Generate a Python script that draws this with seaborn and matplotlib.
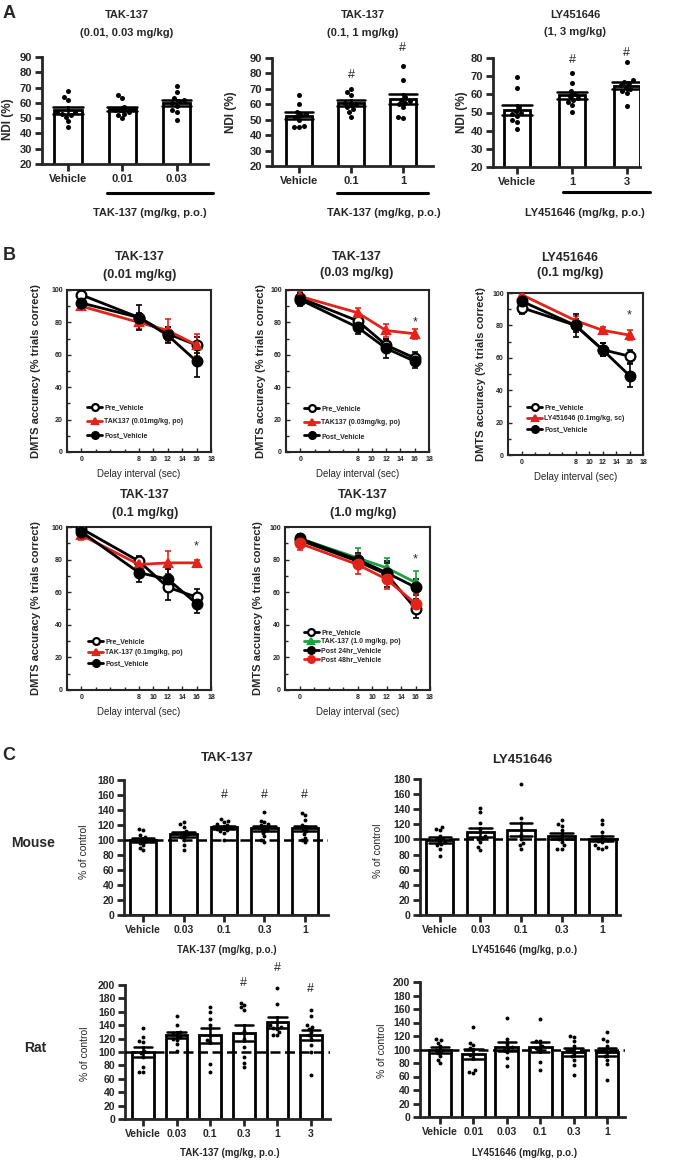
import numpy as np
import pandas as pd
import matplotlib
matplotlib.use("Agg")
import matplotlib.pyplot as plt
from matplotlib.lines import Line2D
from matplotlib.ticker import MultipleLocator
import seaborn as sns

W, H = 685, 1161

# ---------------- Panel A: NDI (%) ----------------
a1_doses = ["Vehicle", "0.01", "0.03"]
a1_vehicle = [68, 64, 62, 54, 54, 53, 52, 51, 48, 44]
a1_d001 = [65, 63, 57, 56, 55, 55, 54, 53, 52, 50]
a1_d003 = [71, 67, 63, 62, 61, 60, 58, 55, 54, 49]

a2_doses = ["Vehicle", "0.1", "1"]
a2_vehicle = [66, 60, 55, 54, 53, 52, 50, 46, 45, 45]
a2_d01 = [70, 68, 66, 61, 60, 60, 58, 57, 55, 52]
a2_d1 = [85, 76, 65, 63, 62, 61, 60, 58, 52, 51]

a3_doses = ["Vehicle", "1", "3"]
a3_vehicle = [69.5, 63.5, 53, 51, 50, 49, 48, 46, 45, 41]
a3_d1 = [72, 66, 62, 60, 59, 58, 57, 56, 54, 50.5]
a3_d3 = [78, 68, 67, 66, 65, 64, 63, 62, 61, 53.5]

# ---------------- Panel B: DMTS accuracy ----------------
delays = [0, 8, 12, 16]
b1_pre, b1_pre_err = [97, 83, 73, 66], [2, 3, 4, 5]
b1_tak, b1_tak_err = [90, 80, 75, 66], [2, 4, 7, 7]
b1_post, b1_post_err = [92, 83, 72, 56], [3, 8, 5, 10]

b2_pre, b2_pre_err = [95, 81, 66, 58], [3, 3, 4, 4]
b2_tak, b2_tak_err = [96, 86, 75, 73], [3, 3, 4, 3]
b2_post, b2_post_err = [94, 77, 64, 56], [4, 4, 6, 4]

b3_pre, b3_pre_err = [91, 80, 65, 61], [4, 4, 4, 4]
b3_ly, b3_ly_err = [99, 83, 77, 74], [2, 3, 2, 3]
b3_post, b3_post_err = [95, 80, 65, 49], [3, 7, 4, 7]

b4_pre, b4_pre_err = [99, 79, 63, 57], [2, 3, 8, 5]
b4_tak, b4_tak_err = [95, 77, 78, 78], [3, 3, 7, 2]
b4_post, b4_post_err = [97, 72, 68, 53], [2, 6, 6, 6]

b5_pre, b5_pre_err = [92, 79, 71, 50], [3, 4, 8, 6]
b5_tak, b5_tak_err = [93, 81, 75, 66], [3, 6, 6, 7]
b5_post24, b5_post24_err = [93, 80, 72, 63], [3, 4, 6, 5]
b5_post48, b5_post48_err = [90, 77, 68, 53], [4, 6, 6, 6]

# ---------------- Panel C: % of control ----------------
cm_tak_doses = ["Vehicle", "0.03", "0.1", "0.3", "1"]
cm_tak_vals = [
    [115, 113, 107, 104, 102, 100, 98, 96, 93, 90, 87],
    [124, 121, 118, 112, 110, 108, 106, 104, 100, 93, 87],
    [128, 126, 124, 121, 120, 118, 117, 116, 115, 113, 112, 110, 100],
    [138, 126, 124, 122, 120, 118, 115, 113, 110, 105, 100, 97],
    [136, 133, 127, 120, 118, 115, 112, 108, 103, 100, 97],
]
cm_ly_doses = ["Vehicle", "0.03", "0.1", "0.3", "1"]
cm_ly_vals = [
    [116, 114, 112, 104, 100, 98, 96, 94, 92, 88, 78],
    [142, 136, 122, 114, 104, 102, 100, 96, 90, 86],
    [174, 128, 122, 112, 106, 100, 95, 92, 87],
    [126, 120, 118, 112, 106, 100, 96, 92, 88, 88],
    [126, 120, 110, 104, 100, 98, 96, 92, 90, 89, 88],
]
cr_tak_doses = ["Vehicle", "0.03", "0.1", "0.3", "1", "3"]
cr_tak_vals = [
    [136, 122, 116, 115, 102, 98, 93, 78, 70, 70],
    [154, 140, 130, 128, 126, 122, 120, 118, 112, 102],
    [167, 160, 150, 140, 125, 118, 115, 82, 70],
    [173, 170, 167, 163, 132, 120, 108, 93, 83, 77],
    [196, 171, 140, 138, 136, 135, 130, 126, 125],
    [163, 153, 140, 138, 135, 130, 125, 120, 110, 100, 65],
]
cr_ly_doses = ["Vehicle", "0.01", "0.03", "0.1", "0.3", "1"]
cr_ly_vals = [
    [115, 114, 110, 105, 100, 98, 95, 90, 85, 80],
    [133, 110, 106, 102, 100, 92, 88, 70, 66, 65],
    [146, 116, 108, 104, 102, 100, 96, 88, 75],
    [145, 113, 112, 105, 102, 100, 82, 70],
    [120, 119, 112, 105, 100, 95, 90, 85, 77, 62],
    [126, 115, 112, 105, 100, 96, 90, 85, 78, 55],
]

RED = "#e2231a"
GREEN = "#1fa040"

sns.set_style("ticks")
plt.rcParams["font.family"] = ["Liberation Sans", "DejaVu Sans"]

fig = plt.figure(figsize=(W / 100, H / 100), dpi=100)


def px_axes(l, t, r, b):
    return fig.add_axes([l / W, 1 - b / H, (r - l) / W, (b - t) / H])


def ptext(x, y, s, **kw):
    kw.setdefault("ha", "center")
    kw.setdefault("va", "center")
    fig.text(x / W, 1 - y / H, s, **kw)


def bracket(x0, x1, y):
    fig.add_artist(Line2D([x0 / W, x1 / W], [1 - y / H, 1 - y / H],
                          color="black", lw=2.2, transform=fig.transFigure))


def dot_bar(ax, doses, groups, ylim, ystep, xlim, width, dot, fs):
    df = pd.DataFrame({
        "dose": np.repeat(doses, [len(g) for g in groups]),
        "value": np.concatenate(groups),
    })
    sns.barplot(data=df, x="dose", y="value", order=doses, errorbar="se",
                color="white", saturation=1, edgecolor="black", linewidth=2,
                width=width, capsize=0.55,
                err_kws={"color": "black", "linewidth": 1.8}, ax=ax)
    sns.swarmplot(data=df, x="dose", y="value", order=doses, color="black",
                  size=dot, ax=ax)
    ax.set_ylim(*ylim)
    ax.set_yticks(np.arange(ylim[0], ylim[1] + 1, ystep))
    ax.set_xlim(*xlim)
    ax.set_xlabel("")
    ax.set_ylabel("")
    for s in ["top", "right"]:
        ax.spines[s].set_visible(False)
    for s in ["left", "bottom"]:
        ax.spines[s].set_linewidth(2)
    ax.tick_params(width=2, length=5, labelsize=fs, pad=2)
    for lab in ax.get_xticklabels() + ax.get_yticklabels():
        lab.set_fontweight("bold")


def dmts(ax, series, leg_xy, leg_space, star=None):
    handles = []
    for label, vals, errs, col, mk, mfc in series:
        ax.errorbar(delays, vals, yerr=errs, fmt="none", ecolor=col,
                    elinewidth=1.2, capsize=2, capthick=1.2, zorder=2)
        sns.lineplot(x=delays, y=vals, color=col, marker=mk,
                     markersize=7 if mk == "o" else 6,
                     markerfacecolor=mfc, markeredgecolor=col,
                     markeredgewidth=1.6, linewidth=2, ax=ax, zorder=3)
        h = ax.get_lines()[-1]
        h.set_label(label)
        handles.append(h)
    ax.set_xlim(-2, 18)
    ax.set_ylim(0, 100)
    ax.set_xticks([0, 8, 10, 12, 14, 16, 18])
    ax.xaxis.set_minor_locator(MultipleLocator(2))
    ax.yaxis.set_major_locator(MultipleLocator(20))
    ax.yaxis.set_minor_locator(MultipleLocator(10))
    ax.tick_params(which="both", direction="in", width=1, labelsize=5, pad=3)
    ax.tick_params(which="major", length=3)
    ax.tick_params(which="minor", length=2)
    for s in ax.spines.values():
        s.set_linewidth(1.5)
    for lab in ax.get_xticklabels() + ax.get_yticklabels():
        lab.set_fontweight("bold")
    ax.set_xlabel("Delay interval (sec)", fontsize=7, labelpad=4)
    ax.set_ylabel("DMTS accuracy (% trials correct)", fontsize=8,
                  fontweight="bold")
    ax.legend(handles=handles, loc="upper left", bbox_to_anchor=leg_xy,
              frameon=False, prop={"size": 5, "weight": "bold"},
              handlelength=2.2, handletextpad=0.3, labelspacing=leg_space,
              borderaxespad=0, borderpad=0, markerscale=0.7)
    if star is not None:
        ax.text(16, star, "*", ha="center", va="center", fontsize=9)


# ===== Panel A =====
ptext(9, 13, "A", fontsize=13, fontweight="bold")

ax = px_axes(42, 57, 208, 164)
dot_bar(ax, a1_doses, [a1_vehicle, a1_d001, a1_d003], (20, 90), 10,
        (-0.48, 2.58), 0.5, 3.6, 8)
ax.set_ylabel("NDI (%)", fontsize=8.5, fontweight="bold")
ax.yaxis.set_label_coords(-0.17, 0.42)
ptext(127, 15, "TAK-137", fontsize=8, fontweight="bold")
ptext(127, 33, "(0.01, 0.03 mg/kg)", fontsize=8, fontweight="bold")
bracket(107, 213, 193)
ptext(150, 213, "TAK-137 (mg/kg, p.o.)", fontsize=8, fontweight="bold")

ax = px_axes(272, 58, 433, 166)
dot_bar(ax, a2_doses, [a2_vehicle, a2_d01, a2_d1], (20, 90), 10,
        (-0.52, 2.58), 0.5, 3.6, 8)
ax.set_ylabel("NDI (%)", fontsize=8.5, fontweight="bold")
ax.yaxis.set_label_coords(-0.22, 0.5)
for i, v in [(1, 79), (2, 96.5)]:
    ax.text(i, v, "#", ha="center", va="center", fontsize=9, clip_on=False)
ptext(363, 15, "TAK-137", fontsize=8, fontweight="bold")
ptext(363, 33, "(0.1, 1 mg/kg)", fontsize=8, fontweight="bold")
bracket(337, 428, 193)
ptext(384, 213, "TAK-137 (mg/kg, p.o.)", fontsize=8, fontweight="bold")

ax = px_axes(493, 58, 640, 167)
dot_bar(ax, a3_doses, [a3_vehicle, a3_d1, a3_d3], (20, 80), 10,
        (-0.44, 2.24), 0.47, 3.6, 8)
ax.set_ylabel("NDI (%)", fontsize=8.5, fontweight="bold")
ax.yaxis.set_label_coords(-0.17, 0.5)
for i, v in [(1, 79), (2, 83)]:
    ax.text(i, v, "#", ha="center", va="center", fontsize=9, clip_on=False)
ptext(575, 15, "LY451646", fontsize=8, fontweight="bold")
ptext(575, 32, "(1, 3 mg/kg)", fontsize=8, fontweight="bold")
bracket(563, 650, 192)
ptext(585, 213, "LY451646 (mg/kg, p.o.)", fontsize=8, fontweight="bold")

# ===== Panel B =====
ptext(9, 255, "B", fontsize=13, fontweight="bold")

ax = px_axes(67, 290, 211, 452)
dmts(ax, [("Pre_Vehicle", b1_pre, b1_pre_err, "black", "o", "white"),
          ("TAK137 (0.01mg/kg, po)", b1_tak, b1_tak_err, RED, "^", RED),
          ("Post_Vehicle", b1_post, b1_post_err, "black", "o", "black")],
     (0.139, 0.296), 1.0)
ax.yaxis.set_label_coords(-0.18, 0.5)
ptext(140, 257, "TAK-137", fontsize=9, fontweight="bold")
ptext(140, 275, "(0.01 mg/kg)", fontsize=9, fontweight="bold")

ax = px_axes(286, 290, 429, 452)
dmts(ax, [("Pre_Vehicle", b2_pre, b2_pre_err, "black", "o", "white"),
          ("TAK137 (0.03mg/kg, po)", b2_tak, b2_tak_err, RED, "^", RED),
          ("Post_Vehicle", b2_post, b2_post_err, "black", "o", "black")],
     (0.126, 0.29), 1.0, 80)
ax.yaxis.set_label_coords(-0.14, 0.5)
ptext(357, 257, "TAK-137", fontsize=9, fontweight="bold")
ptext(357, 273, "(0.03 mg/kg)", fontsize=9, fontweight="bold")

ax = px_axes(508, 293, 643, 455)
dmts(ax, [("Pre_Vehicle", b3_pre, b3_pre_err, "black", "o", "white"),
          ("LY451646 (0.1mg/kg, sc)", b3_ly, b3_ly_err, RED, "^", RED),
          ("Post_Vehicle", b3_post, b3_post_err, "black", "o", "black")],
     (0.14, 0.315), 0.6, 86)
ax.yaxis.set_label_coords(-0.163, 0.5)
ptext(570, 258, "LY451646", fontsize=9, fontweight="bold")
ptext(570, 273, "(0.1 mg/kg)", fontsize=9, fontweight="bold")

ax = px_axes(67, 527, 211, 690)
dmts(ax, [("Pre_Vehicle", b4_pre, b4_pre_err, "black", "o", "white"),
          ("TAK-137 (0.1mg/kg, po)", b4_tak, b4_tak_err, RED, "^", RED),
          ("Post_Vehicle", b4_post, b4_post_err, "black", "o", "black")],
     (0.146, 0.319), 0.6, 88)
ax.yaxis.set_label_coords(-0.18, 0.5)
ptext(145, 495, "TAK-137", fontsize=9, fontweight="bold")
ptext(145, 513, "(0.1 mg/kg)", fontsize=9, fontweight="bold")

ax = px_axes(285, 527, 430, 690)
dmts(ax, [("Pre_Vehicle", b5_pre, b5_pre_err, "black", "o", "white"),
          ("TAK-137 (1.0 mg/kg, po)", b5_tak, b5_tak_err, GREEN, "^", GREEN),
          ("Post 24hr_Vehicle", b5_post24, b5_post24_err, "black", "o", "black"),
          ("Post 48hr_Vehicle", b5_post48, b5_post48_err, RED, "o", RED)],
     (0.13, 0.374), 0.3, 80)
ax.yaxis.set_label_coords(-0.152, 0.5)
ptext(363, 495, "TAK-137", fontsize=9, fontweight="bold")
ptext(363, 513, "(1.0 mg/kg)", fontsize=9, fontweight="bold")

# ===== Panel C =====
ptext(9, 756, "C", fontsize=13, fontweight="bold")
ptext(33, 843, "Mouse", fontsize=10, fontweight="bold")
ptext(35, 1048, "Rat", fontsize=10, fontweight="bold")


def control_panel(ax, doses, vals, ylim, xlim, width, lab_xy):
    dot_bar(ax, doses, vals, ylim, 20, xlim, width, 2.8, 7.5)
    ax.axhline(100, color="black", lw=1.8, ls=(0, (4, 1.8)), zorder=3)
    ax.set_ylabel("% of control", fontsize=7.5)
    ax.yaxis.set_label_coords(*lab_xy)


ax = px_axes(124, 780, 328, 915)
control_panel(ax, cm_tak_doses, cm_tak_vals, (0, 180), (-0.47, 4.57), 0.65,
              (-0.17, 0.47))
for i in [2, 3, 4]:
    ax.text(i, 160, "#", ha="center", va="center", fontsize=9, clip_on=False)
ptext(227, 758, "TAK-137", fontsize=9.5, fontweight="bold")
ptext(227, 950, "TAK-137 (mg/kg, p.o.)", fontsize=7, fontweight="bold")

ax = px_axes(420, 779, 620, 915)
control_panel(ax, cm_ly_doses, cm_ly_vals, (0, 180), (-0.49, 4.44), 0.67,
              (-0.185, 0.47))
ptext(522, 760, "LY451646", fontsize=9.5, fontweight="bold")
ptext(525, 950, "LY451646 (mg/kg, p.o.)", fontsize=7, fontweight="bold")

ax = px_axes(125, 985, 330, 1119)
control_panel(ax, cr_tak_doses, cr_tak_vals, (0, 200), (-0.54, 5.57), 0.64,
              (-0.17, 0.49))
for i, v in [(3, 203), (4, 225), (5, 194)]:
    ax.text(i, v, "#", ha="center", va="center", fontsize=9, clip_on=False)
ptext(230, 1153, "TAK-137 (mg/kg, p.o.)", fontsize=7, fontweight="bold")

ax = px_axes(420, 982, 625, 1117)
control_panel(ax, cr_ly_doses, cr_ly_vals, (0, 200), (-0.6, 5.54), 0.68,
              (-0.16, 0.49))
ptext(525, 1153, "LY451646 (mg/kg, p.o.)", fontsize=7, fontweight="bold")

fig.savefig("out.png", dpi=100)
